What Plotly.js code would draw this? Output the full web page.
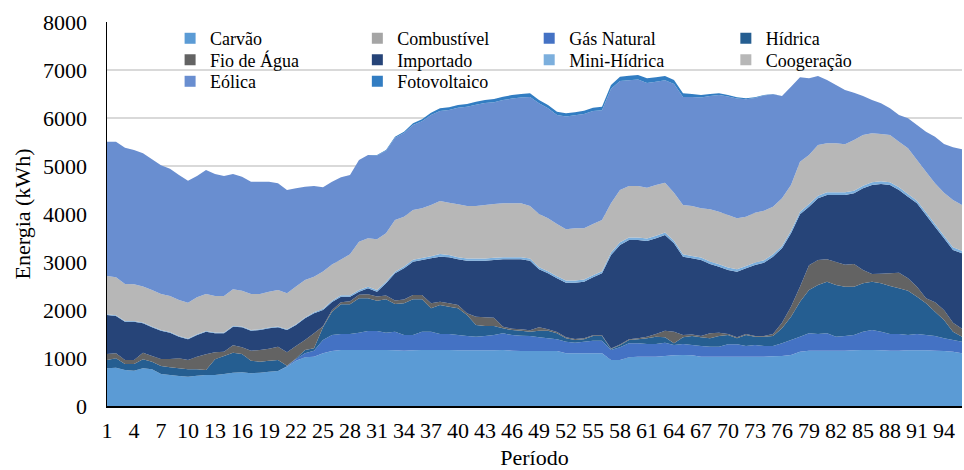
<!DOCTYPE html>
<html>
<head>
<meta charset="utf-8">
<script src="https://cdn.plot.ly/plotly-3.0.1.min.js"></script>
<style>html,body{margin:0;padding:0;background:#fff;}#chart{width:964px;height:470px;}</style>
</head>
<body>
<div id="chart"></div>
<script>
const periods = [1,2,3,4,5,6,7,8,9,10,11,12,13,14,15,16,17,18,19,20,21,22,23,24,25,26,27,28,29,30,31,32,33,34,35,36,37,38,39,40,41,42,43,44,45,46,47,48,49,50,51,52,53,54,55,56,57,58,59,60,61,62,63,64,65,66,67,68,69,70,71,72,73,74,75,76,77,78,79,80,81,82,83,84,85,86,87,88,89,90,91,92,93,94,95,96];
const tickLabels = [1,4,7,10,13,16,19,22,25,28,31,34,37,40,43,46,49,52,55,58,61,64,67,70,73,76,79,82,85,88,91,94];

const carvao = [785,799,750,736,785,764,667,646,625,611,632,646,646,667,694,701,681,694,715,729,819,944,1014,1028,1097,1146,1167,1167,1167,1167,1167,1167,1160,1153,1160,1167,1167,1167,1167,1160,1160,1160,1160,1160,1167,1153,1146,1146,1146,1146,1146,1097,1097,1097,1097,1097,958,958,1014,1028,1028,1028,1042,1056,1063,1056,1028,1028,1028,1028,1028,1028,1028,1028,1035,1042,1063,1132,1153,1153,1153,1153,1153,1160,1167,1167,1160,1153,1153,1160,1160,1160,1153,1146,1132,1097];
const combustivel = [0,0,0,0,0,0,0,0,0,0,0,0,0,0,0,0,0,0,0,0,0,0,0,0,0,0,0,0,0,0,0,0,0,0,0,0,0,0,0,0,0,0,0,0,0,0,0,0,0,0,0,0,0,0,0,0,0,0,0,0,0,0,0,0,0,0,0,0,0,0,0,0,0,0,0,0,0,0,0,0,0,0,0,0,0,0,0,0,0,0,0,0,0,0,0,0];
const gasNatural = [0,0,0,0,0,0,0,0,0,0,0,0,0,0,0,0,0,0,0,0,11,36,83,125,278,333,333,333,361,396,396,361,389,326,319,382,382,333,333,319,298,284,298,319,347,326,319,312,285,264,243,243,222,243,264,264,209,264,292,278,264,264,277,215,229,215,222,208,208,257,257,222,243,222,215,264,312,312,361,347,361,291,305,319,382,416,389,347,347,319,340,319,305,264,243,243];
const hidrica = [173,194,125,139,187,160,166,160,160,153,132,104,326,375,417,382,263,230,229,229,10,10,70,48,264,486,618,618,715,680,631,694,576,660,743,673,486,604,569,556,438,244,209,188,104,104,104,91,138,159,125,70,56,49,97,97,21,42,69,83,118,152,112,35,139,187,181,174,222,194,125,229,173,194,208,312,486,730,903,1021,1076,1077,1028,1007,1007,1007,1007,1000,951,924,778,660,507,382,174,104];
const fioAgua = [125,104,83,83,139,118,146,173,208,194,264,326,146,90,153,139,209,243,250,278,278,260,208,313,21,35,42,62,77,87,86,78,75,81,88,88,105,66,71,70,34,172,180,173,32,27,31,31,70,31,26,20,20,21,17,17,12,16,15,21,34,56,138,243,48,32,27,104,70,21,20,21,16,16,42,118,208,312,513,521,466,479,458,472,277,160,201,264,327,257,208,104,195,208,187,167];
const importado = [813,778,799,799,611,597,590,549,451,431,451,473,396,382,389,417,416,416,424,403,465,438,451,417,340,167,118,98,62,121,102,256,564,648,697,732,936,941,957,951,1098,1168,1181,1202,1406,1446,1456,1448,1208,1164,1120,1139,1174,1180,1206,1289,1946,2074,2068,2048,1993,1993,1993,1840,1632,1586,1584,1444,1375,1333,1369,1368,1477,1526,1611,1549,1528,1507,1223,1284,1340,1396,1452,1472,1702,1854,1868,1840,1722,1701,1736,1736,1576,1493,1514,1570];
const miniHidrica = [15,15,15,15,15,15,15,15,15,15,15,15,15,15,15,15,15,15,15,15,15,15,20,20,25,25,30,30,35,35,35,35,35,40,40,40,45,55,50,45,45,45,45,45,45,45,45,45,45,45,45,45,45,45,45,45,50,55,55,55,55,55,55,55,50,50,50,50,50,50,50,50,50,50,50,50,55,55,55,55,55,55,55,55,55,55,55,55,55,55,55,55,55,55,55,55];
const coogeracao = [797,790,770,763,753,763,749,749,749,749,770,769,763,763,763,749,749,735,749,763,749,787,779,743,775,758,742,852,1007,1007,1055,1006,1076,1036,1036,1036,1066,1105,1089,1100,1094,1094,1114,1121,1121,1121,1121,1094,1108,1101,1087,1067,1087,1066,1066,1066,1026,1091,1070,1070,1057,1056,1036,1000,1026,1041,1026,1089,1096,1096,1061,1026,1041,1033,992,991,952,1042,1021,1057,1021,1021,1000,1057,1056,1022,987,987,952,952,848,848,848,896,987,951];
const eolica = [2799,2827,2840,2798,2774,2722,2681,2652,2604,2541,2528,2584,2541,2500,2402,2375,2341,2341,2292,2222,2153,2045,1944,1889,1756,1724,1714,1653,1701,1736,1747,1721,1716,1741,1771,1814,1874,1875,1931,2010,2065,2108,2123,2118,2152,2182,2203,2272,2305,2291,2270,2351,2354,2382,2353,2286,2385,2271,2202,2218,2182,2151,2132,2263,2252,2273,2311,2363,2430,2470,2496,2446,2388,2400,2342,2132,2049,1757,1597,1437,1320,1215,1132,986,812,694,639,555,555,625,729,833,972,1014,1097,1160];
const fotovoltaico = [0,0,0,0,0,0,0,0,0,0,0,0,0,0,0,0,0,0,0,0,0,0,0,0,0,0,0,0,0,0,10,15,20,30,35,40,50,55,55,60,60,65,65,70,70,75,75,75,70,70,70,65,65,70,70,75,80,90,95,95,95,95,90,85,75,60,50,40,35,30,25,20,15,10,5,0,0,0,0,0,0,0,0,0,0,0,0,0,0,0,0,0,0,0,0,0];

const seriesNames = ['Carvão','Combustível','Gás Natural','Hídrica','Fio de Água','Importado','Mini-Hídrica','Coogeração','Eólica','Fotovoltaico'];
const seriesValues = [carvao, combustivel, gasNatural, hidrica, fioAgua, importado, miniHidrica, coogeracao, eolica, fotovoltaico];
const seriesColors = ['#5B9BD5','#A5A5A5','#4472C4','#255E91','#636363','#264478','#7CAFDD','#B7B7B7','#698ED0','#327DC2'];

// legend grid: 4 columns x 3 rows (reading order left to right)
const legCols = [0.0738, 0.2928, 0.4938, 0.7238];
const legRows = [1.005, 0.949, 0.893];

const traces = [];
seriesNames.forEach((name, i) => {
  traces.push({
    type:'scatter', mode:'none', x:periods, y:seriesValues[i], name:name,
    stackgroup:'one', fillcolor:seriesColors[i], line:{width:0, color:seriesColors[i]},
    showlegend:false, hoverinfo:'skip'
  });
});
const layout = {
  width:964, height:470,
  margin:{l:107, r:2, t:22, b:64},
  paper_bgcolor:'#fff', plot_bgcolor:'#fff',
  font:{family:'"Liberation Serif", "Times New Roman", serif', color:'#000', size:22},
  showlegend:true,
  xaxis:{
    range:[1,96], tickmode:'array', tickvals:tickLabels, ticktext:tickLabels.map(String),
    showgrid:false, zeroline:false, showline:true, linecolor:'#000', linewidth:1.5,
    ticks:'', ticklabelstandoff:4,
    tickfont:{family:'"Liberation Serif", "Times New Roman", serif', color:'#000', size:22},
    title:{text:'Período', font:{family:'"Liberation Serif", "Times New Roman", serif', color:'#000', size:22}, standoff:12}
  },
  yaxis:{
    range:[0,8000], dtick:1000, tick0:0,
    showgrid:true, gridcolor:'#D9D9D9', gridwidth:1.3, zeroline:false,
    showline:true, linecolor:'#000', linewidth:1.5,
    ticks:'', ticklabelstandoff:14,
    tickfont:{family:'"Liberation Serif", "Times New Roman", serif', color:'#000', size:22},
    title:{text:'Energia (kWh)', font:{family:'"Liberation Serif", "Times New Roman", serif', color:'#000', size:22}, standoff:6}
  }
};
// legend entries: one small legend per entry, positioned on the grid
seriesNames.forEach((name, i) => {
  const key = i === 0 ? 'legend' : 'legend' + (i + 1);
  traces.push({
    type:'scatter', mode:'markers', x:[null], y:[null], name:name,
    marker:{symbol:'square', size:11, color:seriesColors[i]},
    showlegend:true, legend:key, hoverinfo:'skip'
  });
  layout[key] = {
    x:legCols[i % 4], y:legRows[Math.floor(i / 4)], xanchor:'left', yanchor:'top',
    bgcolor:'rgba(0,0,0,0)', itemwidth:30, tracegroupgap:0,
    font:{family:'"Liberation Serif", "Times New Roman", serif', color:'#000', size:18}
  };
});

Plotly.newPlot('chart', traces, layout, {staticPlot:true, displayModeBar:false});
</script>
</body>
</html>
